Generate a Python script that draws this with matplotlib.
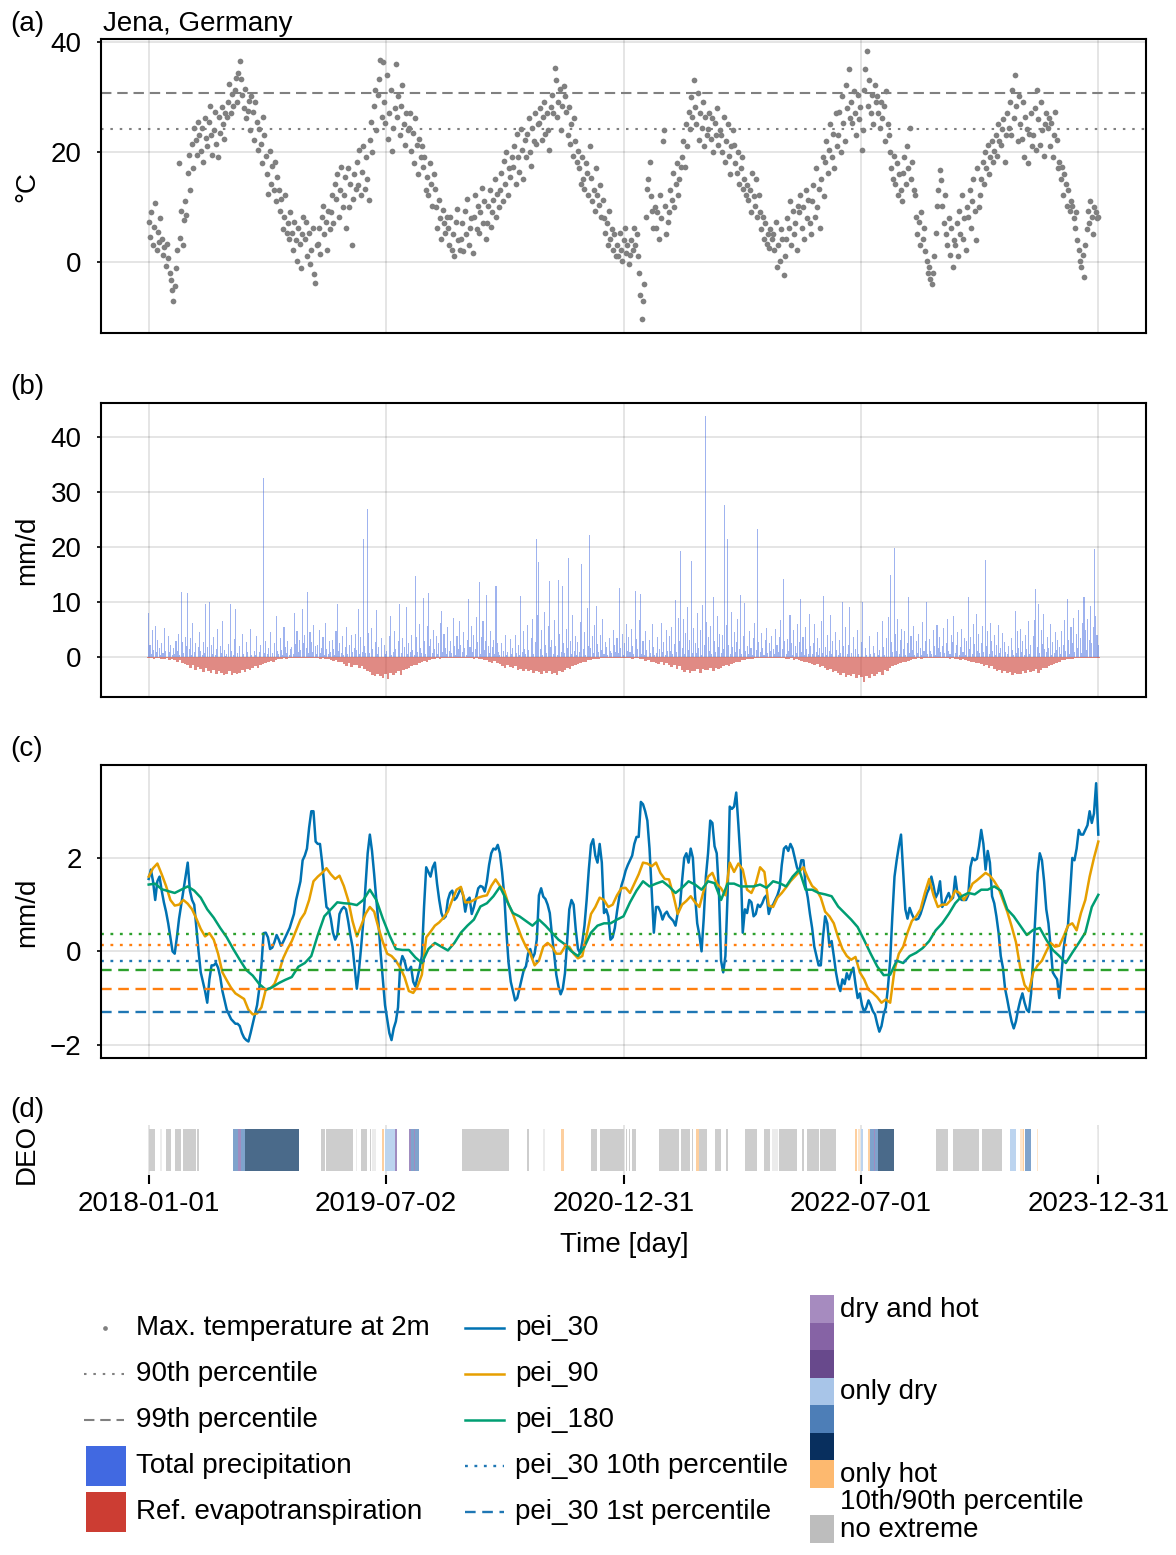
import numpy as np
import pandas as pd
import matplotlib
matplotlib.use("Agg")
import matplotlib.pyplot as plt
from matplotlib.patches import Rectangle

plt.rcParams['font.family'] = ['Liberation Sans', 'DejaVu Sans']
FS = 20

start = pd.Timestamp('2018-01-01')
tick_days = [0, 547, 1095, 1642, 2190]
tick_labels = [(start + pd.Timedelta(days=d)).strftime('%Y-%m-%d') for d in tick_days]

# daily max temperature, read every 3rd day
temp_step = 3
temp_max = [
    7.2, 4.5, 9.1, 3.0, 6.3, 10.6, 2.2, 5.4, 3.6, 8.0,
    4.1, 1.3, 2.7, -0.8, 3.2, 0.6, -2.1, -3.4, -5.2, -7.1,
    -4.4, -1.2, 2.1, 17.9, 4.3, 9.2, 3.1, 7.6, 11.0, 8.4,
    16.2, 19.4, 13.1, 21.3, 17.0, 24.2, 22.1, 19.3, 25.4, 23.0,
    20.1, 24.3, 18.2, 26.1, 22.4, 21.0, 25.3, 28.2, 23.1, 19.4,
    24.0, 27.2, 21.3, 19.1, 26.2, 23.4, 28.1, 25.0, 22.3, 27.1,
    26.3, 29.1, 32.2, 27.0, 30.4, 28.2, 31.1, 33.3, 29.0, 34.2,
    36.4, 33.1, 30.2, 28.0, 31.3, 26.1, 27.4, 29.2, 24.0, 30.1,
    27.2, 22.1, 29.0, 25.3, 20.2, 24.1, 21.3, 18.0, 26.2, 23.1,
    19.2, 16.0, 12.3, 20.1, 14.2, 17.3, 13.1, 18.2, 11.0, 15.3,
    13.1, 9.2, 11.3, 6.0, 8.2, 12.1, 5.3, 7.1, 4.2, 9.0,
    5.2, 2.1, 7.3, 4.0, 0.2, 6.1, 3.3, -1.2, 5.0, 8.1,
    4.1, 7.2, 1.0, 5.3, -0.4, 2.2, 6.1, -2.3, -3.9, 3.0,
    3.2, 6.1, 1.4, 8.2, 10.1, 5.0, 7.3, 2.1, 9.2, 6.0,
    9.1, 12.2, 7.0, 14.1, 11.3, 16.0, 8.2, 13.1, 17.2, 10.0,
    12.1, 15.3, 6.2, 17.1, 10.0, 14.2, 3.1, 11.3, 16.0, 13.2,
    18.1, 14.0, 20.2, 12.1, 16.3, 21.0, 13.2, 19.1, 15.0, 11.2,
    22.1, 25.3, 20.0, 28.2, 31.1, 24.0, 30.2, 33.1, 36.6, 26.3,
    36.3, 29.1, 25.2, 34.0, 22.3, 27.1, 31.2, 20.1, 24.3, 28.0,
    36.0, 26.2, 30.1, 23.0, 28.3, 32.1, 25.0, 21.2, 27.1, 24.0,
    24.2, 27.0, 20.1, 23.3, 18.0, 26.1, 21.2, 16.0, 22.3, 19.1,
    21.0, 17.2, 19.1, 13.0, 15.3, 12.1, 18.0, 14.2, 10.1, 16.0,
    13.2, 10.0, 6.1, 11.2, 8.0, 4.1, 9.3, 7.0, 5.2, 8.1,
    6.2, 3.0, 8.1, 2.2, 5.1, 1.0, 7.2, 9.5, 4.0, 2.1,
    4.2, 7.1, 2.0, 9.2, 5.0, 11.3, 3.1, 6.2, 8.0, 1.5,
    8.1, 12.2, 6.0, 10.1, 5.2, 9.0, 13.3, 7.1, 11.0, 4.2,
    7.0, 10.2, 13.1, 6.3, 9.1, 11.2, 15.0, 8.1, 12.3, 10.0,
    13.1, 16.2, 11.0, 18.3, 14.1, 20.0, 12.2, 17.1, 15.3, 19.0,
    17.2, 21.0, 14.1, 23.2, 19.0, 16.3, 24.1, 20.2, 15.0, 22.1,
    19.0, 23.2, 26.1, 20.0, 17.3, 24.2, 22.0, 27.1, 21.3, 25.0,
    25.2, 28.0, 22.1, 26.3, 29.0, 23.2, 27.1, 24.0, 20.2, 28.1,
    30.2, 27.0, 35.1, 33.0, 26.2, 29.1, 31.3, 24.0, 28.2, 32.0,
    30.1, 27.2, 23.0, 28.1, 21.3, 25.0, 19.2, 26.1, 22.0, 18.2,
    20.1, 17.0, 14.2, 19.1, 15.0, 13.2, 18.0, 16.1, 12.2, 21.0,
    15.2, 11.0, 13.1, 9.2, 17.0, 12.1, 10.3, 14.0, 8.1, 11.2,
    8.0, 5.2, 7.1, 3.0, 9.2, 4.1, 6.0, 2.2, 5.1, 1.0,
    3.1, 1.0, 5.2, 2.1, 0.2, 4.0, 6.1, 1.5, 3.0, -0.5,
    1.2, 4.0, 2.1, 6.2, 3.0, 5.1, 1.0, -2.1, -6.0, -10.5,
    -7.2, -4.0, 8.1, 13.2, 15.0, 18.1, 12.0, 9.2, 6.1, 10.0,
    6.1, 9.0, 4.2, 12.1, 8.0, 22.0, 23.9, 10.1, 5.0, 7.2,
    9.1, 13.0, 11.2, 16.1, 10.0, 14.2, 18.0, 12.1, 15.0, 17.2,
    19.1, 22.0, 17.2, 25.1, 21.0, 27.2, 24.1, 30.0, 26.2, 33.0,
    28.1, 25.0, 30.6, 22.1, 27.0, 24.2, 29.1, 21.0, 26.2, 23.0,
    24.1, 27.0, 22.2, 26.1, 20.0, 25.2, 23.1, 28.0, 21.2, 24.0,
    23.1, 20.0, 26.2, 18.1, 22.0, 25.1, 19.2, 16.0, 21.1, 24.0,
    21.2, 18.0, 16.1, 20.0, 14.2, 17.1, 19.0, 13.2, 15.0, 12.1,
    14.0, 11.2, 13.1, 9.0, 16.2, 12.0, 10.1, 15.0, 8.2, 12.1,
    9.1, 6.0, 8.2, 4.1, 7.0, 3.2, 5.1, 2.5, 6.0, 4.2,
    5.0, 2.1, 7.2, -1.0, 3.1, 0.2, 6.0, 4.1, -2.4, 1.0,
    4.1, 8.0, 6.2, 11.1, 3.0, 9.2, 5.1, 7.0, 2.2, 10.1,
    9.0, 12.2, 6.1, 10.0, 4.2, 13.1, 8.0, 11.2, 7.1, 5.0,
    11.1, 14.0, 8.2, 17.1, 10.0, 13.2, 6.1, 15.0, 19.1, 12.0,
    18.2, 22.0, 16.1, 20.2, 25.0, 19.1, 23.2, 17.0, 27.1, 21.0,
    23.1, 27.2, 20.0, 30.1, 25.2, 22.0, 32.1, 28.0, 35.0, 26.1,
    29.0, 25.2, 31.0, 27.1, 23.0, 30.2, 26.0, 28.1, 20.2, 24.0,
    31.1, 35.0, 38.3, 28.2, 33.0, 27.1, 30.2, 25.0, 32.1, 29.0,
    30.1, 27.0, 24.2, 29.0, 26.1, 28.2, 22.0, 31.0, 25.1, 23.0,
    20.0, 17.1, 15.0, 19.2, 14.1, 18.0, 12.2, 16.0, 13.1, 11.0,
    16.1, 19.0, 14.2, 21.0, 17.1, 24.2, 15.0, 18.1, 13.0, 12.2,
    8.1, 5.0, 7.2, 3.1, 9.0, 4.2, 6.1, 2.0, 0.2, -2.1,
    -1.0, -3.1, -4.0, -2.1, 1.0, 5.2, 10.1, 13.0, 16.6, 14.8,
    10.1, 7.0, 12.2, 5.0, 3.1, 8.0, 1.2, 6.1, -1.0, 4.0,
    3.0, 7.1, 1.0, 9.2, 5.0, 12.1, 4.2, 8.0, 2.1, 10.0,
    8.1, 13.0, 6.2, 11.1, 15.0, 9.2, 4.0, 17.1, 10.0, 12.2,
    15.0, 18.1, 14.2, 20.0, 17.1, 21.2, 16.0, 19.1, 22.0, 18.2,
    20.1, 23.0, 19.2, 25.1, 22.0, 21.2, 24.1, 26.0, 18.2, 23.1,
    27.0, 24.2, 29.1, 23.0, 31.2, 26.1, 34.0, 28.2, 22.0, 30.1,
    25.0, 22.2, 29.1, 19.0, 26.2, 24.1, 18.0, 23.2, 27.1, 21.0,
    23.1, 28.0, 20.2, 31.1, 26.0, 21.2, 29.1, 24.0, 19.2, 25.1,
    27.0, 24.2, 26.1, 21.0, 25.2, 19.1, 23.0, 27.2, 22.1, 17.0,
    18.1, 15.0, 17.2, 12.1, 16.0, 14.2, 10.1, 13.0, 9.2, 11.0,
    10.1, 8.0, 6.2, 9.1, 4.0, 2.2, 0.1, -1.0, 1.2, -2.7,
    3.1, 6.0, 9.2, 7.1, 11.0, 8.2, 5.1, 10.0, 9.1, 8.0,
    8.2,
]
temp_p90 = 24.1
temp_p99 = 30.7

# total precipitation (mm/d), every 3rd day
prec_step = 3
precip = [
    7.9, 2.1, 0.4, 4.8, 1.2, 5.6, 0.8, 3.1, 1.6, 0.3,
    2.4, 0.6, 5.2, 1.1, 0, 3.8, 0.9, 2.2, 0.2, 1.5,
    0.5, 2.8, 1.0, 4.1, 0.3, 11.8, 2.6, 0.7, 3.5, 1.9,
    11.5, 1.3, 3.4, 0.2, 6.2, 0.8, 2.5, 0, 1.7, 4.4,
    1.1, 0.3, 2.7, 0.6, 9.5, 1.8, 0, 10.0, 2.2, 0.4,
    3.6, 0.2, 1.4, 5.1, 0, 2.0, 0.7, 6.4, 1.2, 0.1,
    0.5, 2.3, 0, 9.5, 1.0, 0.3, 3.2, 8.7, 0.6, 0,
    1.9, 0, 4.2, 0.4, 0, 2.6, 0.8, 0, 5.0, 0.2,
    0, 1.1, 0.3, 3.7, 0, 0.9, 2.1, 0, 32.5, 0.6,
    2.8, 0.4, 1.6, 0, 4.5, 0.7, 0, 2.4, 7.4, 1.0,
    0.5, 3.3, 1.2, 0.2, 5.4, 1.8, 0.6, 2.9, 0.3, 1.4,
    1.7, 0.4, 8.0, 2.3, 4.7, 0.9, 3.1, 1.2, 8.6, 2.5,
    3.9, 1.5, 11.7, 0.6, 4.4, 2.7, 0.8, 5.8, 1.9, 0.4,
    2.1, 4.9, 0.7, 1.6, 3.5, 0.2, 6.1, 1.3, 0.5, 2.8,
    0.9, 3.0, 1.4, 0.2, 4.6, 9.5, 1.1, 2.4, 0.6, 3.7,
    0.3, 1.8, 5.3, 0.5, 2.2, 0, 3.9, 0.8, 1.5, 4.1,
    1.2, 8.7, 0.4, 3.6, 0.9, 21.4, 2.0, 0.6, 26.8, 4.3,
    0.7, 5.2, 1.3, 0, 2.6, 8.4, 0.4, 1.8, 0, 3.4,
    0, 2.2, 0.5, 1.0, 0, 3.8, 7.4, 0.2, 0.8, 4.6,
    1.4, 0, 2.9, 9.5, 0.6, 3.3, 0, 1.7, 9.1, 0.5,
    2.4, 0.8, 4.0, 1.2, 0.3, 14.7, 3.6, 0.9, 6.0, 1.5,
    0.6, 10.6, 2.8, 0.4, 5.5, 11.5, 1.9, 3.2, 0.7, 4.8,
    1.3, 3.7, 0.5, 2.5, 6.2, 8.3, 0.9, 4.1, 1.6, 0.4,
    5.3, 1.1, 2.9, 0.6, 7.1, 2.0, 0.3, 3.8, 1.4, 6.5,
    2.2, 0.8, 4.4, 1.5, 0.2, 3.1, 10.4, 1.8, 5.6, 0.9,
    4.0, 1.3, 7.2, 2.6, 13.5, 0.5, 3.5, 6.4, 1.2, 2.8,
    11.2, 2.0, 0.6, 4.7, 1.7, 3.0, 0.4, 12.9, 2.5, 0.9,
    0.3, 2.4, 0, 1.1, 4.0, 0.2, 0.8, 0, 3.2, 0.5,
    1.6, 0, 3.9, 0.7, 2.1, 0.2, 11.1, 0.9, 4.6, 1.3,
    0.4, 5.8, 1.2, 0, 3.3, 6.8, 0.5, 2.7, 21.4, 7.5,
    17.2, 1.4, 4.9, 0.3, 8.2, 2.1, 0.6, 5.5, 13.7, 1.8,
    3.0, 0.5, 6.7, 1.9, 0.2, 13.9, 4.2, 0.8, 12.9, 2.4,
    0.7, 5.0, 1.5, 17.9, 2.9, 0.4, 7.6, 1.1, 3.7, 0.2,
    2.6, 0.9, 6.3, 16.8, 1.4, 4.5, 0.3, 8.8, 2.0, 22.2,
    1.5, 3.8, 0.6, 5.7, 9.2, 2.3, 0.8, 4.0, 1.2, 6.9,
    0.4, 2.7, 1.8, 0.2, 3.4, 1.0, 0.6, 4.8, 2.1, 0.9,
    3.3, 0.7, 12.5, 1.6, 4.2, 0.3, 2.5, 6.0, 1.1, 3.6,
    0.8, 5.1, 2.0, 0.4, 11.9, 3.2, 1.3, 6.6, 11.4, 0.5,
    2.9, 0.3, 4.6, 1.2, 0, 3.0, 0.7, 5.9, 1.8, 0.2,
    0.6, 3.5, 0, 1.4, 6.2, 0.9, 2.6, 0.3, 4.9, 1.1,
    3.8, 1.0, 5.4, 0.5, 2.3, 10.3, 0.8, 7.0, 2.9, 19.3,
    1.6, 6.8, 0.4, 4.3, 9.0, 1.2, 3.1, 17.4, 0.6, 5.2,
    2.4, 0.7, 7.9, 1.5, 4.8, 0.3, 9.4, 2.1, 43.8, 6.3,
    3.5, 1.1, 5.6, 0.4, 10.9, 2.8, 0.9, 7.3, 1.7, 4.1,
    0.6, 3.9, 1.4, 27.6, 5.8, 21.4, 2.2, 0.5, 8.1, 1.8,
    4.4, 0.8, 2.6, 6.9, 1.3, 11.3, 0.4, 3.7, 9.7, 1.0,
    2.0, 0.5, 4.7, 1.6, 0.3, 3.4, 6.1, 1.2, 23.2, 2.7,
    0.9, 4.3, 1.5, 0.2, 3.0, 5.2, 0.7, 2.4, 1.1, 3.8,
    1.3, 0.4, 5.0, 2.1, 0.8, 3.5, 6.6, 1.4, 14.2, 2.9,
    0.5, 3.2, 1.0, 7.5, 2.4, 0.3, 4.8, 1.9, 0.6, 6.0,
    2.7, 10.5, 0.9, 3.6, 0.2, 5.3, 1.4, 0.5, 7.8, 2.0,
    0.4, 2.5, 5.9, 0.8, 3.3, 0.2, 1.6, 6.4, 0.7, 11.1,
    1.8, 0.3, 4.0, 1.1, 7.6, 0.5, 2.8, 0, 4.5, 1.2,
    0.2, 3.1, 0.6, 10.0, 1.9, 0, 5.4, 0.4, 2.2, 9.0,
    0.7, 0, 3.6, 1.3, 0, 4.9, 0.5, 0, 2.7, 9.9,
    0, 1.6, 0.2, 0, 3.8, 0.4, 0, 2.0, 0.6, 0,
    4.4, 0.3, 1.2, 0, 6.5, 1.8, 0.2, 3.3, 0, 7.2,
    14.8, 2.6, 0.8, 19.8, 4.2, 1.1, 6.9, 0.5, 3.0, 5.1,
    1.4, 4.6, 0.3, 2.5, 10.9, 0.7, 3.7, 1.2, 5.5, 0.2,
    2.8, 0.6, 4.1, 1.5, 0.2, 6.3, 1.0, 2.9, 10.0, 0.4,
    3.2, 1.1, 0.5, 4.8, 2.0, 0.3, 5.7, 1.6, 3.6, 0.8,
    1.9, 5.2, 0.7, 2.4, 6.8, 1.0, 0.4, 3.9, 2.6, 7.4,
    0.6, 2.1, 4.5, 0.3, 1.7, 5.0, 0.9, 3.3, 0.2, 2.8,
    10.8, 1.4, 3.5, 0.5, 6.0, 2.3, 7.7, 1.1, 4.2, 0.7,
    2.5, 5.6, 0.8, 17.6, 1.9, 4.6, 0.4, 6.2, 2.8, 1.0,
    3.9, 0.3, 2.2, 5.8, 0.6, 1.5, 4.3, 0, 2.6, 0.9,
    0.4, 2.0, 0, 3.4, 1.2, 0.2, 8.3, 0.7, 4.6, 1.6,
    5.1, 0.8, 2.9, 0.2, 4.0, 1.3, 6.4, 0.5, 2.1, 0,
    3.7, 6.7, 12.3, 1.8, 9.6, 0.6, 4.9, 2.3, 7.8, 1.4,
    0.9, 3.6, 1.5, 5.9, 0.3, 2.7, 0.7, 4.4, 1.2, 3.0,
    1.8, 0.5, 4.7, 2.2, 6.6, 1.0, 10.5, 3.1, 0.4, 5.3,
    2.4, 7.0, 0.8, 4.1, 1.6, 8.4, 3.4, 0.6, 6.2, 10.9,
    4.8, 1.2, 6.9, 3.0, 9.2, 2.5, 5.4, 19.5, 7.3, 3.9,
    2.2,
]

# reference evapotranspiration (mm/d, negative), every 6th day
et_step = 6
et_ref = [
    -0.3, -0.2, -0.4, -0.3, -0.2, -0.4, -0.5, -0.3, -0.6, -0.5,
    -0.7, -0.9, -0.6, -1.1, -1.3, -1.6, -2.0, -1.5, -2.4, -1.9,
    -2.3, -2.8, -2.1, -2.6, -3.0, -2.5, -3.1, -2.7, -2.9, -3.3,
    -3.2, -2.6, -3.4, -2.9, -3.1, -3.0, -2.4, -2.8, -2.2, -2.5,
    -2.1, -1.7, -2.0, -1.5, -1.3, -1.2, -1.0, -0.8, -0.9, -0.6,
    -0.5, -0.4, -0.3, -0.4, -0.3, -0.2, -0.3, -0.2, -0.3, -0.2,
    -0.2, -0.3, -0.2, -0.2, -0.3, -0.3, -0.4, -0.3, -0.5, -0.4,
    -0.6, -0.8, -0.7, -1.0, -0.9, -1.3, -1.7, -1.2, -1.9, -1.5,
    -1.6, -2.1, -1.8, -2.3, -2.6, -2.8, -3.3, -3.6, -3.1, -3.5,
    -3.9, -3.2, -4.1, -2.9, -3.3, -3.0, -2.7, -3.3, -2.5, -2.2,
    -2.0, -1.7, -1.5, -1.6, -1.2, -1.0, -0.8, -0.9, -0.6, -0.5,
    -0.4, -0.3, -0.4, -0.3, -0.2, -0.2, -0.3, -0.2, -0.2, -0.3,
    -0.2, -0.3, -0.3, -0.2, -0.3, -0.4, -0.3, -0.5, -0.4, -0.6,
    -0.7, -0.9, -1.1, -0.8, -1.2, -1.4, -1.8, -2.0, -1.6, -1.9,
    -2.1, -1.8, -2.4, -2.2, -2.6, -2.3, -2.7, -2.5, -2.9, -2.6,
    -2.8, -3.1, -2.6, -3.0, -2.7, -3.2, -2.9, -3.4, -2.6, -2.8,
    -2.4, -2.1, -2.3, -1.8, -1.6, -1.3, -1.1, -0.9, -1.0, -0.7,
    -0.6, -0.5, -0.4, -0.4, -0.3, -0.3, -0.2, -0.3, -0.2, -0.2,
    -0.2, -0.3, -0.2, -0.3, -0.2, -0.3, -0.4, -0.3, -0.2, -0.4,
    -0.5, -0.8, -0.7, -0.9, -1.0, -1.1, -1.3, -1.0, -1.5, -1.2,
    -1.6, -1.9, -1.5, -2.2, -1.8, -2.4, -2.8, -2.5, -3.0, -2.7,
    -2.6, -2.3, -2.9, -2.2, -2.5, -2.4, -2.1, -2.6, -2.0, -2.3,
    -2.0, -1.8, -1.6, -1.7, -1.4, -1.1, -0.9, -1.0, -0.7, -0.6,
    -0.5, -0.4, -0.4, -0.3, -0.3, -0.2, -0.3, -0.2, -0.2, -0.3,
    -0.3, -0.2, -0.3, -0.3, -0.2, -0.4, -0.5, -0.3, -0.6, -0.5,
    -0.7, -0.8, -1.0, -0.9, -1.2, -1.3, -1.6, -1.4, -1.9, -1.7,
    -2.1, -2.5, -2.2, -2.8, -2.6, -3.0, -3.4, -2.9, -3.7, -3.3,
    -3.5, -3.1, -3.9, -3.4, -3.8, -4.6, -3.6, -3.9, -3.2, -3.5,
    -3.1, -2.8, -3.3, -2.5, -2.6, -2.0, -1.7, -1.5, -1.4, -1.1,
    -1.0, -0.9, -0.8, -0.6, -0.5, -0.4, -0.3, -0.4, -0.2, -0.3,
    -0.2, -0.3, -0.2, -0.3, -0.2, -0.3, -0.2, -0.3, -0.4, -0.3,
    -0.4, -0.5, -0.6, -0.5, -0.7, -0.8, -1.0, -0.9, -1.2, -1.1,
    -1.4, -1.7, -1.5, -2.0, -1.8, -2.2, -2.6, -2.4, -2.9, -2.7,
    -3.0, -2.8, -3.3, -2.9, -3.1, -3.2, -2.7, -2.9, -2.5, -2.8,
    -2.6, -2.3, -2.9, -2.4, -2.1, -2.0, -1.7, -1.5, -1.3, -1.1,
    -0.9, -0.7, -0.6, -0.5, -0.4, -0.4, -0.3, -0.3, -0.2, -0.3,
    -0.2, -0.3, -0.2, -0.2, -0.3, -0.2,
]

# precipitation-evaporation index, 30/90/180 day windows
pei30_step = 5
pei_30 = [
    1.55, 1.75, 1.5, 1.1, 1.5, 1.6, 1.3, 1.05, 0.85, 0.6, 0.3, 0.0,
    -0.05, 0.3, 0.7, 1.0, 1.3, 1.6, 1.9, 1.3, 1.1, 1.0, 0.5, 0.0,
    -0.45, -0.65, -0.85, -1.1, -0.6, -0.3, -0.3, -0.25, -0.35, -0.55, -0.85, -1.05,
    -1.25, -1.35, -1.45, -1.5, -1.55, -1.55, -1.6, -1.75, -1.85, -1.9, -1.93, -1.75,
    -1.55, -1.35, -1.15, -0.8, -0.3, 0.39, 0.4, 0.3, 0.05, 0.08, 0.2, 0.35,
    0.25, 0.12, 0.2, 0.3, 0.4, 0.5, 0.65, 0.8, 1.1, 1.3, 1.5, 1.95,
    2.05, 2.2, 2.65, 3.0, 3.0, 2.35, 2.3, 2.3, 1.9, 1.4, 0.95, 0.9,
    0.7, 0.4, 0.25, 0.35, 0.8, 0.9, 0.95, 0.9, 0.65, 0.35, 0.1, -0.35,
    -0.8, -0.4, 0.1, 0.65, 1.4, 2.1, 2.5, 2.15, 1.65, 1.1, 0.6, -0.05,
    -0.6, -1.15, -1.45, -1.75, -1.9, -1.65, -1.5, -1.2, -0.3, -0.1, -0.2, -0.4,
    -0.4, -0.33, -0.65, -0.75, -0.55, -0.35, -0.1, 0.95, 1.8, 1.7, 1.6, 1.8,
    1.9, 1.45, 1.1, 0.82, 0.7, 0.75, 1.1, 1.25, 1.3, 1.1, 1.15, 1.25,
    1.35, 1.2, 0.85, 1.1, 1.15, 0.8, 0.95, 1.15, 1.35, 1.4, 1.38, 1.28,
    1.5, 1.85, 2.1, 2.2, 2.18, 2.28, 2.1, 1.7, 1.2, 0.4, -0.25, -0.65,
    -0.85, -1.05, -1.0, -0.8, -0.6, -0.4, -0.32, -0.05, 0.05, -0.15, -0.05, 0.25,
    1.2, 1.35, 1.17, 1.12, 1.0, 0.82, 0.35, -0.05, -0.5, -0.75, -0.92, -0.8,
    -0.47, 0.2, 0.9, 1.1, 1.0, 0.45, 0.05, -0.04, 0.2, 0.55, 1.1, 1.75,
    2.28, 2.4, 2.05, 1.9, 2.3, 1.9, 0.82, 0.9, 0.75, 0.25, 0.3, 0.5,
    0.85, 1.15, 1.4, 1.55, 1.73, 1.85, 1.95, 2.05, 2.3, 2.45, 2.45, 3.2,
    3.15, 3.0, 2.8, 2.2, 1.3, 0.4, 0.95, 0.95, 0.85, 0.68, 0.8, 0.85,
    0.75, 0.7, 0.65, 0.55, 0.82, 0.95, 1.5, 2.0, 2.1, 1.9, 2.2, 2.0,
    1.2, 0.6, 0.35, 0.0, 0.7, 1.6, 2.1, 2.8, 2.75, 2.25, 2.1, 1.3,
    -0.2, -0.45, -0.1, 1.2, 3.1, 3.05, 3.1, 3.4, 2.7, 1.95, 0.4, 0.9,
    0.82, 1.1, 1.05, 0.75, 0.8, 1.0, 0.95, 1.03, 1.15, 1.2, 0.8, 0.95,
    1.0, 1.1, 1.2, 1.35, 1.85, 2.2, 2.25, 2.15, 2.3, 2.2, 2.0, 1.8,
    1.68, 1.95, 1.95, 1.4, 1.15, 0.8, 0.5, 0.1, -0.1, -0.3, -0.3, 0.3,
    0.75, 0.6, 0.1, 0.22, -0.1, -0.45, -0.7, -0.85, -0.6, -0.7, -0.47, -0.6,
    -0.45, -0.35, -0.7, -1.0, -0.9, -1.15, -1.3, -1.2, -1.05, -1.15, -1.28, -1.35,
    -1.55, -1.72, -1.6, -1.35, -1.2, -0.75, -0.2, 0.75, 1.6, 1.95, 2.25, 2.5,
    1.7, 0.9, 0.7, 0.93, 0.8, 0.7, 0.68, 0.7, 0.8, 0.95, 1.1, 1.25,
    1.35, 1.6, 1.4, 1.15, 1.25, 1.5, 0.95, 1.03, 1.15, 1.25, 1.1, 1.15,
    1.6, 1.25, 1.15, 1.1, 1.1, 1.1, 1.2, 1.8, 2.0, 1.95, 1.98, 2.25,
    2.6, 2.3, 1.75, 2.15, 1.9, 1.18, 1.03, 0.75, 0.4, -0.1, -0.35, -0.8,
    -1.03, -1.28, -1.5, -1.65, -1.5, -1.25, -1.05, -0.9, -1.1, -1.25, -1.3, -0.9,
    -0.1, 0.8, 1.68, 2.1, 1.95, 1.5, 0.9, 0.6, 0.1, -0.45, -0.53, -0.6,
    -1.0, -0.5, 0.05, 0.4, 0.55, 1.25, 2.0, 1.95, 2.2, 2.6, 2.5, 2.5,
    2.6, 2.7, 3.0, 2.75, 2.95, 3.6, 2.5,
]
pei90_step = 10
pei_90 = [
    1.6, 1.78, 1.88, 1.65, 1.4, 1.1, 0.98, 1.0, 1.1, 1.02,
    0.9, 0.7, 0.48, 0.32, 0.39, 0.25, -0.05, -0.45, -0.62, -0.78,
    -0.9, -0.96, -1.02, -1.25, -1.35, -1.33, -1.2, -0.82, -0.8, -0.7,
    -0.46, -0.15, 0.05, 0.22, 0.45, 0.68, 0.82, 1.1, 1.5, 1.6,
    1.68, 1.78, 1.65, 1.55, 1.62, 1.4, 1.1, 0.65, 0.32, 0.55,
    0.8, 0.95, 0.85, 0.5, 0.2, -0.05, -0.1, -0.2, -0.35, -0.55,
    -0.85, -0.89, -0.75, -0.5, 0.3, 0.42, 0.55, 0.62, 0.72, 0.85,
    1.1, 1.32, 1.38, 1.05, 1.05, 1.1, 1.15, 1.18, 1.2, 1.4,
    1.54, 1.4, 1.3, 1.0, 0.8, 0.55, 0.3, 0.1, -0.05, -0.3,
    -0.2, 0.1, 0.18, 0.1, -0.05, -0.05, 0.1, 0.1, -0.05, -0.15,
    -0.1, 0.35, 0.8, 0.95, 1.15, 1.1, 0.95, 1.0, 1.2, 1.35,
    1.36, 1.25, 1.45, 1.65, 1.9, 1.88, 1.82, 1.9, 1.68, 1.55,
    1.54, 1.2, 0.8, 1.0, 1.08, 1.18, 1.05, 0.95, 1.3, 1.6,
    1.68, 1.45, 1.35, 1.2, 1.9, 1.7, 1.88, 1.75, 1.32, 1.25,
    1.45, 1.8, 1.7, 0.98, 0.95, 1.15, 1.25, 1.37, 1.5, 1.6,
    1.7, 1.8, 1.58, 1.4, 1.32, 1.15, 0.85, 0.75, 0.6, 0.3,
    0.05, -0.1, -0.18, -0.12, -0.45, -0.6, -0.82, -0.89, -0.98, -1.1,
    -1.03, -1.1, -0.4, -0.05, 0.1, 0.4, 0.65, 0.75, 0.9, 1.25,
    1.55, 1.2, 0.95, 1.0, 1.0, 1.1, 1.3, 1.25, 1.1, 1.25,
    1.45, 1.52, 1.6, 1.68, 1.62, 1.5, 1.35, 1.1, 0.85, 0.54,
    0.2, -0.35, -0.72, -0.85, -0.45, -0.3, -0.2, 0.0, 0.18, 0.1,
    0.12, 0.32, 0.55, 0.6, 0.45, 0.82, 1.1, 1.6, 2.0, 2.35,
]
pei180_step = 15
pei_180 = [
    1.43, 1.45, 1.33, 1.29, 1.25, 1.32, 1.39, 1.3, 1.15, 0.9,
    0.72, 0.5, 0.3, 0.05, -0.18, -0.4, -0.52, -0.7, -0.82, -0.77,
    -0.68, -0.61, -0.55, -0.33, -0.25, -0.1, 0.35, 0.75, 0.9, 1.05,
    1.03, 1.02, 0.99, 1.1, 1.32, 1.1, 0.7, 0.35, 0.05, 0.03,
    0.03, -0.13, -0.25, 0.05, 0.18, 0.1, 0.02, 0.18, 0.4, 0.55,
    0.68, 0.96, 1.03, 1.18, 1.38, 1.1, 0.82, 0.75, 0.65, 0.55,
    0.68, 0.55, 0.4, 0.25, 0.15, 0.0, -0.1, 0.1, 0.4, 0.55,
    0.6, 0.6, 0.68, 0.75, 1.05, 1.3, 1.5, 1.39, 1.45, 1.5,
    1.39, 1.25, 1.36, 1.5, 1.43, 1.32, 1.5, 1.46, 1.1, 1.45,
    1.45, 1.39, 1.39, 1.39, 1.43, 1.36, 1.5, 1.46, 1.39, 1.6,
    1.75, 1.32, 1.32, 1.25, 1.22, 1.18, 0.96, 0.82, 0.68, 0.52,
    0.24, -0.05, -0.32, -0.51, -0.5, -0.2, -0.25, -0.1, -0.03, 0.07,
    0.22, 0.45, 0.6, 0.8, 1.03, 1.18, 1.25, 1.22, 1.32, 1.32,
    1.39, 1.3, 0.9, 0.75, 0.55, 0.35, 0.46, 0.5, 0.25, 0.03,
    -0.1, -0.25, -0.03, 0.18, 0.4, 0.95, 1.21,
]
pei_p10 = [-0.21, 0.14, 0.37]
pei_p01 = [-1.30, -0.80, -0.39]

# detected extreme events (day offsets from 2018-01-01)
deo_start = [0, 26, 40, 61, 79, 112, 195, 206, 213, 221, 398, 410, 477, 489, 510, 515,
             538, 546, 567, 600, 604, 611, 614, 723, 872, 910, 950, 1020, 1040,
             1101, 1107, 1114, 1177, 1228, 1252, 1262, 1270, 1307, 1331, 1376, 1419,
             1437, 1454, 1507, 1519, 1549, 1630, 1636, 1643, 1660, 1664, 1672, 1676,
             1682, 1815, 1856, 1921, 1987, 2010, 2016, 2020, 2048, 2188]
deo_end = [14, 31, 51, 75, 109, 116, 206, 213, 221, 346, 407, 471, 481, 504, 513, 525,
           543, 567, 573, 604, 611, 614, 624, 830, 876, 914, 958, 1034, 1096,
           1103, 1111, 1124, 1224, 1249, 1255, 1268, 1288, 1320, 1337, 1403, 1434,
           1452, 1495, 1511, 1546, 1585, 1634, 1640, 1648, 1664, 1672, 1676, 1682,
           1718, 1843, 1916, 1967, 2000, 2016, 2018, 2034, 2050, 2190]
deo_class = ['ne', 'ne_l', 'ne', 'ne', 'ne', 'ne', 'd2', 'dh', 'd2', 'd3', 'ne', 'ne', 'ne_l', 'ne', 'ne', 'ne_l',
             'h', 'd1', 'dh', 'dh', 'd2', 'dh', 'd2', 'ne', 'ne', 'ne_l', 'h', 'ne', 'ne',
             'ne', 'ne', 'ne', 'ne', 'ne', 'ne', 'h', 'ne', 'ne', 'ne', 'ne', 'ne',
             'ne_l', 'ne', 'ne', 'ne', 'ne', 'h', 'h_l', 'd1', 'h', 'd2', 'dh', 'd2',
             'd3', 'ne', 'ne', 'ne', 'd1', 'h_l', 'h', 'd2', 'h_l', 'ne_l']
deo_colors = {'ne': '#cdcdcd', 'ne_l': '#ececec', 'd1': '#bcd4ef', 'd2': '#7fa3cc',
              'd3': '#4a6a8a', 'dh': '#a08cc0', 'h': '#fdcf9f', 'h_l': '#fee6cc'}

# legend entries for the DEO colour scale
deo_legend_colors = ['#a68bbf', '#8663a5', '#68498c', '#a8c5e8', '#4d7eb7', '#082f5e',
                     '#fdb96f', '#ffffff', '#bdbdbd']

W, H = 1176, 1555
fig = plt.figure(figsize=(W / 100, H / 100), dpi=100)


def px_axes(top, bottom):
    return fig.add_axes([101 / W, 1 - bottom / H, 1045 / W, (bottom - top) / H])


def style(ax, yticks):
    ax.set_xlim(-110, 2300)
    ax.set_xticks(tick_days)
    ax.set_yticks(yticks)
    ax.grid(True, color='#000000', alpha=0.12, lw=1.2)
    ax.set_axisbelow(True)
    ax.tick_params(axis='x', length=0, labelbottom=False)
    ax.tick_params(axis='y', length=3, width=1.2, pad=11, labelsize=FS)
    for s in ax.spines.values():
        s.set_linewidth(1.5)


dotted = (0, (1.2, 3.3))
dashed = (0, (5.0, 2.8))

# (a) temperature
ax1 = px_axes(39.3, 332.7)
tdays = np.arange(len(temp_max)) * temp_step
ax1.scatter(tdays, temp_max, s=17, color='gray', linewidths=0)
ax1.axhline(temp_p90, color='gray', lw=1.5, ls=dotted)
ax1.axhline(temp_p99, color='gray', lw=1.5, ls=dashed)
ax1.set_ylim(-12.9, 40.4)
style(ax1, [0, 20, 40])

# (b) precipitation and evapotranspiration
ax2 = px_axes(403.3, 696.7)
pdays = np.arange(len(precip)) * prec_step
edays = np.arange(len(et_ref)) * et_step
ax2.bar(edays, et_ref, width=et_step, color='#CC3D33', alpha=0.6, linewidth=0)
ax2.bar(pdays, precip, width=prec_step * 0.8, color='royalblue', alpha=0.5, linewidth=0)
ax2.set_ylim(-7.3, 46.1)
style(ax2, [0, 10, 20, 30, 40])

# (c) PEI
ax3 = px_axes(765, 1058.3)
pei_cols = ['#0072B2', '#E69F00', '#009E73']
q_cols = ['#1f77b4', '#ff7f0e', '#2ca02c']
for vals, step, c in zip([pei_30, pei_90, pei_180], [pei30_step, pei90_step, pei180_step], pei_cols):
    ax3.plot(np.arange(len(vals)) * step, vals, color=c, lw=1.8)
for q10, q01, c in zip(pei_p10, pei_p01, q_cols):
    ax3.axhline(q10, color=c, lw=1.7, ls=(0, (1.2, 2.8)))
    ax3.axhline(q01, color=c, lw=1.7, ls=(0, (4.5, 2.8)))
ax3.set_ylim(-2.29, 3.99)
style(ax3, [-2, 0, 2])

# (d) DEO
ax4 = px_axes(1125, 1175)
for s0, s1, k in zip(deo_start, deo_end, deo_class):
    ax4.axvspan(s0, s1, ymin=0.086, ymax=0.92, color=deo_colors[k], lw=0)
ax4.set_xlim(-110, 2300)
ax4.set_ylim(0, 1)
ax4.set_xticks(tick_days)
ax4.set_xticklabels(tick_labels, fontsize=FS)
ax4.set_yticks([])
ax4.grid(True, axis='x', color='#000000', alpha=0.12, lw=1.2)
ax4.set_axisbelow(True)
ax4.tick_params(axis='x', length=6.5, width=1.5, pad=5)
for s in ax4.spines.values():
    s.set_visible(False)

# overlay in pixel coordinates for texts and legend
lax = fig.add_axes([0, 0, 1, 1])
lax.set_xlim(0, W)
lax.set_ylim(H, 0)
lax.axis('off')

for lab, y in zip(['(a)', '(b)', '(c)', '(d)'], [24, 387, 749, 1110]):
    lax.text(10, y, lab, fontsize=FS, va='center', ha='left')
lax.text(103, 24, 'Jena, Germany', fontsize=FS, va='center', ha='left')
for lab, y in zip(['°C', 'mm/d', 'mm/d', 'DEO'], [186, 550, 912, 1154]):
    lax.text(27, y, lab, fontsize=FS, va='center', ha='center', rotation=90)
lax.text(624, 1245, 'Time [day]', fontsize=FS, va='center', ha='center')

rows = [1328, 1374, 1420, 1466, 1512]
lax.plot([105], [rows[0]], 'o', color='gray', ms=3.4, mec='none')
lax.plot([84, 124], [rows[1]] * 2, color='gray', lw=1.5, ls=dotted)
lax.plot([84, 124], [rows[2]] * 2, color='gray', lw=1.5, ls=dashed)
lax.add_patch(Rectangle((86, rows[3] - 20), 40, 40, color='royalblue', lw=0))
lax.add_patch(Rectangle((86, rows[4] - 20), 40, 40, color='#CC3D33', lw=0))
left_labels = ['Max. temperature at 2m', '90th percentile', '99th percentile',
               'Total precipitation', 'Ref. evapotranspiration']
for lab, y in zip(left_labels, rows):
    lax.text(136, y, lab, fontsize=FS, va='center', ha='left')

mid_labels = ['pei_30', 'pei_90', 'pei_180', 'pei_30 10th percentile', 'pei_30 1st percentile']
for c, y in zip(pei_cols, rows[:3]):
    lax.plot([465, 504], [y, y], color=c, lw=1.8)
lax.plot([465, 504], [rows[3]] * 2, color=q_cols[0], lw=1.7, ls=(0, (1.2, 2.8)))
lax.plot([465, 504], [rows[4]] * 2, color=q_cols[0], lw=1.7, ls=(0, (4.5, 2.8)))
for lab, y in zip(mid_labels, rows):
    lax.text(515, y, lab, fontsize=FS, va='center', ha='left')

for i, c in enumerate(deo_legend_colors):
    lax.add_patch(Rectangle((810, 1295 + 27.5 * i), 24, 27.5, color=c, lw=0))
for lab, y in zip(['dry and hot', 'only dry', 'only hot', '10th/90th percentile', 'no extreme'],
                  [1310, 1392, 1475, 1502, 1530]):
    lax.text(840, y, lab, fontsize=FS, va='center', ha='left')

fig.savefig('out.png', dpi=100)
